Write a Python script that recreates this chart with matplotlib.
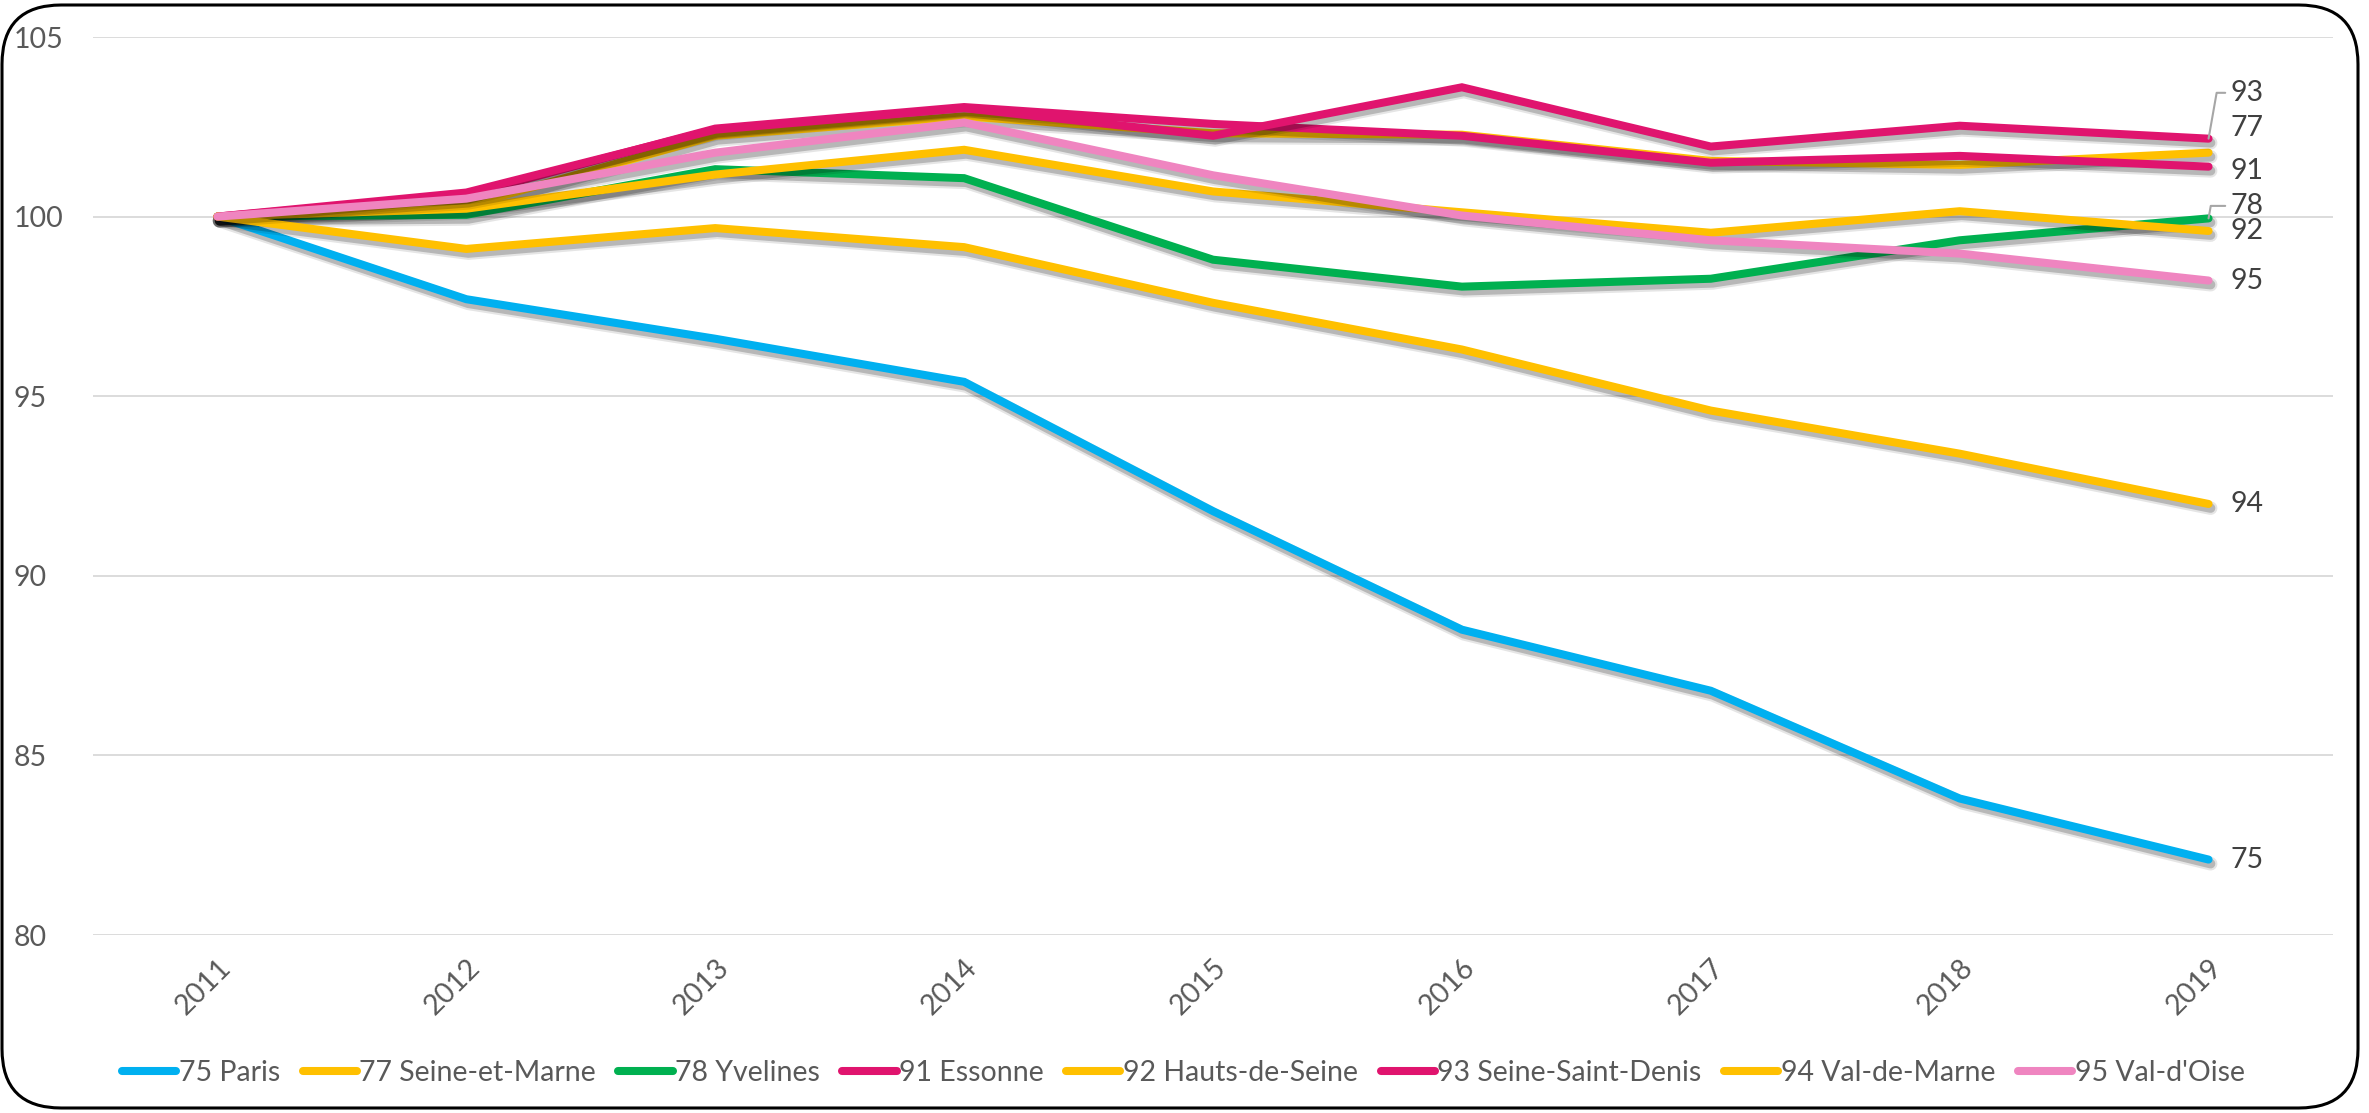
import matplotlib
matplotlib.use("Agg")
import matplotlib.pyplot as plt
import matplotlib.patheffects as pe
from matplotlib.patches import FancyBboxPatch

plt.rcParams['font.family'] = ['Lato', 'DejaVu Sans']

years = ["2011", "2012", "2013", "2014", "2015", "2016", "2017", "2018", "2019"]

paris      = [100, 97.7, 96.6, 95.4, 91.8, 88.5, 86.8, 83.8, 82.1]
seine_marne = [100, 100.3, 102.25, 102.79, 102.32, 102.28, 101.55, 101.44, 101.78]
yvelines   = [100, 100.05, 101.32, 101.07, 98.8, 98.05, 98.27, 99.34, 99.95]
essonne    = [100, 100.6, 102.45, 103.05, 102.58, 102.25, 101.5, 101.69, 101.39]
hauts_seine = [100, 100.22, 101.17, 101.86, 100.7, 100.12, 99.55, 100.15, 99.6]
ssd        = [100, 100.67, 102.42, 103.02, 102.25, 103.6, 101.95, 102.53, 102.17]
val_marne  = [100, 99.1, 99.68, 99.15, 97.6, 96.3, 94.6, 93.4, 92.0]
val_oise   = [100, 100.5, 101.78, 102.62, 101.15, 100.03, 99.34, 98.97, 98.22]

names = ["75 Paris", "77 Seine-et-Marne", "78 Yvelines", "91 Essonne",
         "92 Hauts-de-Seine", "93 Seine-Saint-Denis", "94 Val-de-Marne", "95 Val-d'Oise"]
codes = ["75", "77", "78", "91", "92", "93", "94", "95"]
series = [paris, seine_marne, yvelines, essonne, hauts_seine, ssd, val_marne, val_oise]
colors = ["#00B0F0", "#FFC000", "#00B050", "#E0146E", "#FFC000", "#E0146E", "#FFC000", "#EF85C0"]
# label offsets (points) relative to last point
label_off = {"75": (16, 0), "77": (16, 18), "78": (16, 9), "91": (16, -3),
             "92": (16, 0), "93": (16, 33), "94": (16, 0), "95": (16, 0)}
leader = {"93", "78"}

W, H, DPI = 2369, 1113, 100
fig = plt.figure(figsize=(W / DPI, H / DPI), dpi=DPI)
fig.patch.set_facecolor("white")

# rounded border
border = FancyBboxPatch((2 / W, 5 / H), 2356 / W, 1103 / H,
                        boxstyle="round,pad=0,rounding_size=0.025",
                        transform=fig.transFigure, fill=False, ec="black", lw=2.2,
                        mutation_aspect=W / H)
fig.patches.append(border)

ax = fig.add_axes([93 / W, 1 - 935 / H, 2240 / W, 898 / H])
ax.set_facecolor("none")
x = list(range(len(years)))

lw = 5.8
shadow = [pe.SimpleLineShadow(offset=(1.5, -3), shadow_color="black", alpha=0.10, linewidth=lw + 4),
          pe.SimpleLineShadow(offset=(1.5, -3), shadow_color="black", alpha=0.20, linewidth=lw + 1),
          pe.Normal()]

handles = []
for name, vals, col in zip(names, series, colors):
    ln, = ax.plot(x, vals, color=col, lw=lw, solid_capstyle="round",
                  solid_joinstyle="miter", path_effects=shadow, label=name)
    handles.append(ln)

for code, vals in zip(codes, series):
    dx, dy = label_off[code]
    if code in leader:
        ax.annotate(code, xy=(x[-1], vals[-1]), xytext=(dx, dy), textcoords="offset points",
                    fontsize=20.5, color="#404040", ha="left", va="center",
                    arrowprops=dict(arrowstyle="-", color="#A6A6A6", lw=1.5, shrinkA=2, shrinkB=0,
                                    relpos=(0, 0.5),
                                    connectionstyle="angle,angleA=180,angleB=80,rad=0"))
    else:
        ax.annotate(code, xy=(x[-1], vals[-1]), xytext=(dx, dy), textcoords="offset points",
                    fontsize=20.5, color="#404040", ha="left", va="center")

ax.set_xlim(-0.5, 8.5)
ax.set_ylim(80, 105)
ax.set_yticks([80, 85, 90, 95, 100, 105])
ax.set_xticks(x)
ax.set_xticklabels(years, rotation=45, ha="right", va="top", rotation_mode="anchor")
ax.grid(axis="y", color="#D9D9D9", lw=1.3)
ax.set_axisbelow(True)
for s in ax.spines.values():
    s.set_visible(False)
ax.tick_params(axis="both", length=0, labelsize=20.5, labelcolor="#595959")
ax.tick_params(axis="y", pad=57)
ax.tick_params(axis="x", pad=14)
for lab in ax.get_yticklabels():
    lab.set_horizontalalignment("left")

leg_handles = [plt.Line2D([0], [0], color=c, lw=lw, solid_capstyle="round") for c in colors]
fig.legend(leg_handles, names, loc="center", bbox_to_anchor=(0.4995, 1 - 1073 / H),
           ncol=8, frameon=False, fontsize=20.5, handlelength=1.9, handletextpad=0.1,
           columnspacing=0.78, labelcolor="#595959")

fig.savefig("out.png", dpi=DPI)
